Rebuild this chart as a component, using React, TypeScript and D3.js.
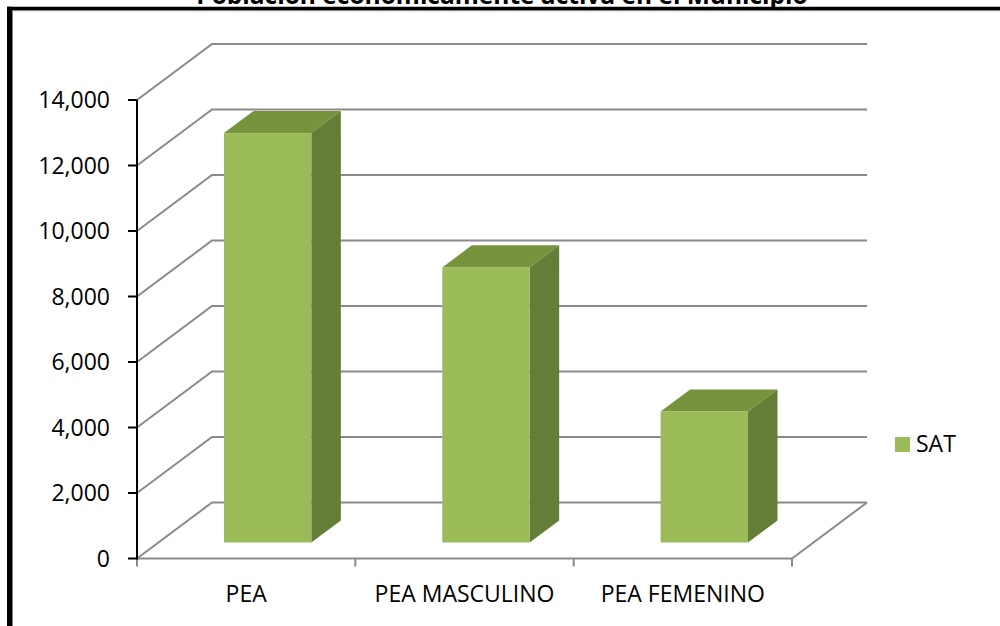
import React from "react";
import * as d3 from "d3";

const title = "Población económicamente activa en el Municipio";
const categories = ["PEA", "PEA MASCULINO", "PEA FEMENINO"];
const seriesName = "SAT";
const values = [12500, 8400, 4000];
const yTicks = [0, 2000, 4000, 6000, 8000, 10000, 12000, 14000];

const W = 1000;
const H = 626;
const FONT = "'Open Sans', 'Liberation Sans', sans-serif";

export default function App() {
  const x0 = 137;
  const x1 = 792;
  const depthX = 75;
  const depthY = -56;
  const dFront = 0.286;
  const dBack = 0.68;

  const y = d3.scaleLinear().domain([0, 14000]).range([558.5, 100]);
  const x = d3.scaleBand<string>().domain(categories).range([x0, x1]).paddingInner(0).paddingOuter(0);
  const fmt = d3.format(",");
  const barW = x.bandwidth() * 0.4;

  const grid = "#8a8a8a";
  const front = "#9BBB59";
  const top = "#77933C";
  const side = "#647D37";

  const line = d3.line<[number, number]>();

  return (
    <div style={{ position: "fixed", left: 0, top: 0, width: W, height: H, background: "#fff" }}>
      <svg width={W} height={H} style={{ display: "block" }}>
        <rect x={0} y={0} width={W} height={H} fill="#fff" />
        {/* frame */}
        <line x1={7} x2={W} y1={8.5} y2={8.5} stroke="#000" strokeWidth={3.5} />
        <line x1={W} x2={12} y1={10.7} y2={10.7} stroke="#808080" strokeWidth={1} />
        <line x1={9.5} x2={9.5} y1={6.75} y2={H} stroke="#000" strokeWidth={5} />
        <line x1={12.5} x2={12.5} y1={10.5} y2={H} stroke="#808080" strokeWidth={1} />
        {/* title */}
        <text x={502} y={4} textAnchor="middle" fontFamily={FONT} fontWeight={700} fontSize={24.5} fill="#000">
          {title}
        </text>

        {/* walls gridlines */}
        {yTicks.map((v) => {
          const yy = y(v);
          return (
            <path
              key={"g" + v}
              d={line([[x0, yy], [x0 + depthX, yy + depthY], [x1 + depthX, yy + depthY]]) || ""}
              fill="none"
              stroke={grid}
              strokeWidth={2}
            />
          );
        })}
        {/* floor front + right edges */}
        <path
          d={line([[x0, y(0)], [x1, y(0)], [x1 + depthX, y(0) + depthY]]) || ""}
          fill="none"
          stroke={grid}
          strokeWidth={2}
        />
        {/* category ticks */}
        {[...categories.map((c) => x(c) as number), x1].map((tx, i) => (
          <line key={"ct" + i} x1={tx} x2={tx} y1={y(0)} y2={y(0) + 8} stroke={grid} strokeWidth={2} />
        ))}

        {/* bars */}
        {categories.map((c, i) => {
          const v = values[i];
          const cx = (x(c) as number) + x.bandwidth() / 2 + dFront * depthX;
          const xl = cx - barW / 2;
          const xr = cx + barW / 2;
          const yt = y(v) + dFront * depthY;
          const yb = y(0) + dFront * depthY;
          const ddx = (dBack - dFront) * depthX;
          const ddy = (dBack - dFront) * depthY;
          return (
            <g key={"b" + c}>
              <path d={`M${xl},${yt}L${xr},${yt}L${xr + ddx},${yt + ddy}L${xl + ddx},${yt + ddy}Z`} fill={top} />
              <path d={`M${xr},${yt}L${xr + ddx},${yt + ddy}L${xr + ddx},${yb + ddy}L${xr},${yb}Z`} fill={side} />
              <rect x={xl} y={yt} width={barW} height={yb - yt} fill={front} />
            </g>
          );
        })}

        {/* value axis */}
        <line x1={x0} x2={x0} y1={y(14000)} y2={y(0) + 1} stroke="#000" strokeWidth={2} />
        {yTicks.map((v) => (
          <g key={"t" + v}>
            <line x1={x0 - 9} x2={x0} y1={y(v)} y2={y(v)} stroke="#000" strokeWidth={2} />
            <text
              x={110}
              y={y(v)}
              dy="0.36em"
              textAnchor="end"
              fontFamily={FONT}
              fontSize={23}
              fill="#000"
            >
              {fmt(v)}
            </text>
          </g>
        ))}

        {/* category labels */}
        {categories.map((c) => (
          <text
            key={"l" + c}
            x={(x(c) as number) + x.bandwidth() / 2}
            y={602}
            textAnchor="middle"
            fontFamily={FONT}
            fontSize={23}
            fill="#000"
          >
            {c}
          </text>
        ))}

        {/* legend */}
        <rect x={895} y={437} width={15} height={15} fill={front} />
        <text x={916} y={452} fontFamily={FONT} fontSize={23} fill="#000">
          {seriesName}
        </text>
      </svg>
    </div>
  );
}
